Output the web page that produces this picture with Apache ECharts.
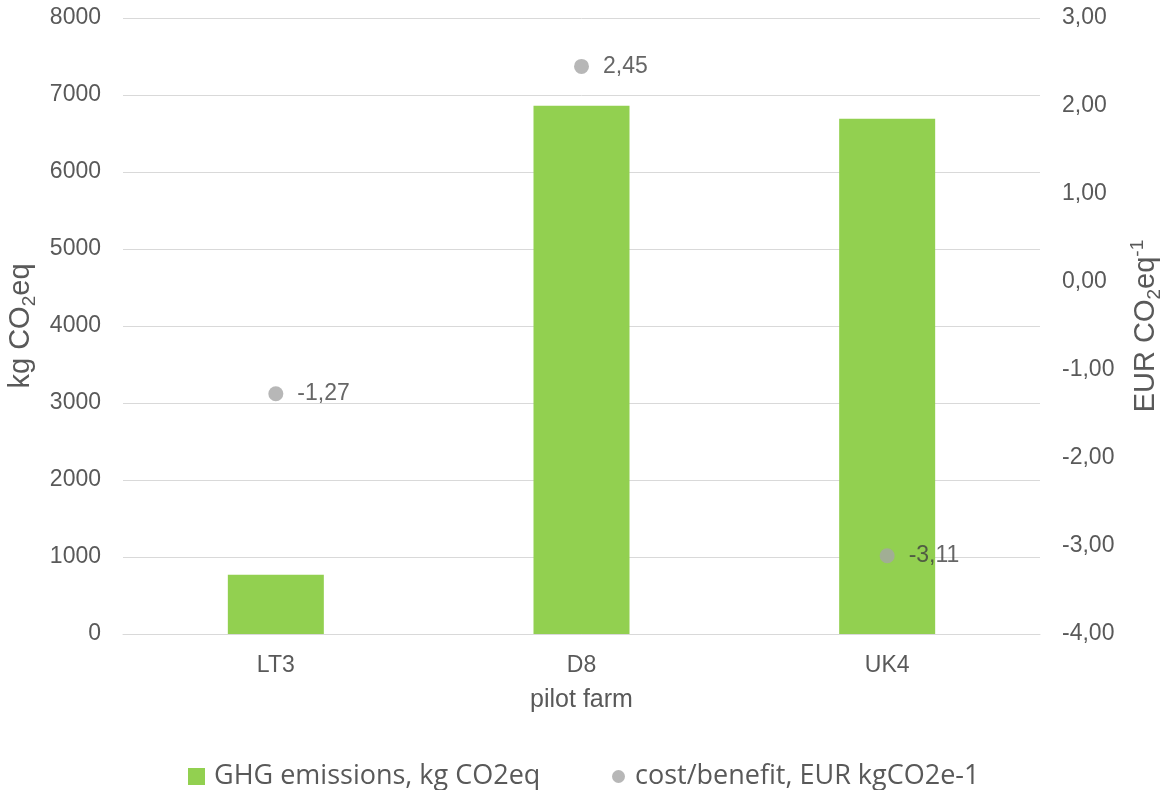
<!DOCTYPE html>
<html>
<head>
<meta charset="utf-8">
<style>
  html, body { margin: 0; padding: 0; background: #ffffff; }
  #chart { width: 1165px; height: 790px; }
</style>
<script src="https://cdn.jsdelivr.net/npm/echarts@6/dist/echarts.min.js"></script>
</head>
<body>
<div id="chart"></div>
<script>
// Pilot farms and their values
const farms = ['LT3', 'D8', 'UK4'];
const ghgEmissions = [770, 6860, 6690];        // kg CO2eq
const costBenefit = [-1.27, 2.45, -3.11];      // EUR per kg CO2eq

const seriesNames = ['GHG emissions, kg CO2eq', 'cost/benefit, EUR kgCO2e-1'];

const AXIS_FONT = "'Liberation Sans', Arial, sans-serif";
const LEGEND_FONT = "'Open Sans', sans-serif";
const tickColor = '#595959';
const gridColor = '#d9d9d9';

const comma = v => v.toFixed(2).replace('.', ',');

const titleRich = {
  a:   { fontSize: 29, fontFamily: AXIS_FONT, color: tickColor, lineHeight: 36, verticalAlign: 'middle' },
  sub: { fontSize: 19, fontFamily: AXIS_FONT, color: tickColor, lineHeight: 18, verticalAlign: 'bottom' },
  sup: { fontSize: 19, fontFamily: AXIS_FONT, color: tickColor, lineHeight: 18, verticalAlign: 'top' }
};

const chart = echarts.init(document.getElementById('chart'), null, { renderer: 'canvas' });

chart.setOption({
  backgroundColor: '#ffffff',
  animation: false,
  grid: { left: 123, right: 125, top: 18, bottom: 156, containLabel: false, outerBoundsMode: 'none' },
  legend: [
    {
      data: [{ name: seriesNames[0], icon: 'rect' }],
      left: 183, top: 758,
      itemWidth: 17, itemHeight: 17,
      textStyle: { fontFamily: LEGEND_FONT, fontSize: 27, color: tickColor, padding: [0, 0, 0, 4] }
    },
    {
      data: [{ name: seriesNames[1], icon: 'circle' }],
      left: 607, top: 758,
      itemWidth: 13, itemHeight: 13,
      textStyle: { fontFamily: LEGEND_FONT, fontSize: 27, color: tickColor, padding: [0, 0, 0, 5] }
    }
  ],
  xAxis: {
    type: 'category',
    data: farms,
    boundaryGap: true,
    name: 'pilot farm',
    nameLocation: 'middle',
    nameGap: 54,
    nameTextStyle: { fontFamily: AXIS_FONT, fontSize: 25, color: tickColor },
    axisLine: { lineStyle: { color: gridColor, width: 1 } },
    axisTick: { show: false },
    axisLabel: { fontFamily: AXIS_FONT, fontSize: 23, color: tickColor, margin: 20 }
  },
  yAxis: [
    {
      type: 'value',
      min: 0, max: 8000, interval: 1000,
      name: '{a|kg CO}{sub|2}{a|eq}',
      nameLocation: 'middle',
      nameRotate: 90,
      nameGap: 82,
      nameTextStyle: { rich: titleRich },
      axisLine: { show: false },
      axisTick: { show: false },
      splitLine: { lineStyle: { color: gridColor, width: 1 } },
      axisLabel: {
        fontFamily: AXIS_FONT, fontSize: 23, color: tickColor, margin: 22,
        formatter: v => String(v)
      }
    },
    {
      type: 'value',
      min: -4, max: 3, interval: 1,
      position: 'right',
      name: '{a|EUR CO}{sub|2}{a|eq}{sup|-1}',
      nameLocation: 'middle',
      nameRotate: 90,
      nameGap: 88,
      nameTextStyle: { rich: titleRich },
      axisLine: { show: false },
      axisTick: { show: false },
      splitLine: { show: false },
      axisLabel: {
        fontFamily: AXIS_FONT, fontSize: 23, color: tickColor, margin: 22,
        formatter: v => comma(v)
      }
    }
  ],
  series: [
    {
      name: seriesNames[0],
      type: 'bar',
      yAxisIndex: 0,
      data: ghgEmissions,
      barWidth: 96,
      itemStyle: { color: '#92d050' }
    },
    {
      name: seriesNames[1],
      type: 'scatter',
      yAxisIndex: 1,
      data: costBenefit,
      symbol: 'circle',
      symbolSize: 15,
      itemStyle: { color: '#a5a5a5' },
      label: {
        show: true,
        position: 'right',
        distance: 14,
        fontFamily: AXIS_FONT,
        fontSize: 23,
        color: '#404040',
        formatter: p => comma(p.value)
      },
      z: 5
    }
  ]
});
</script>
</body>
</html>
